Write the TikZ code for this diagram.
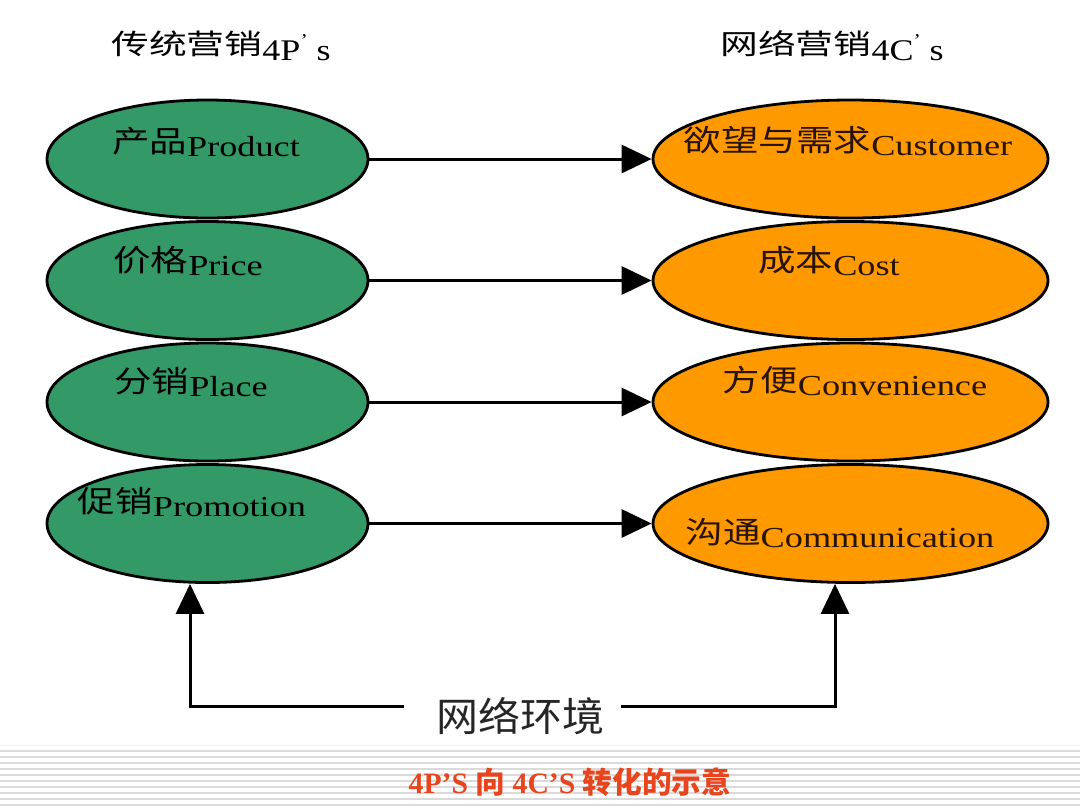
\documentclass[tikz,border=0pt]{standalone}
\usepackage{fontspec}
\usepackage{graphicx}
\setmainfont{Liberation Serif}
\newfontfamily\cjk{Noto Sans CJK SC}
\usetikzlibrary{arrows.meta,shapes.geometric}
\definecolor{ellgreen}{RGB}{51,153,102}
\definecolor{ellorange}{RGB}{255,153,0}
\definecolor{capred}{RGB}{232,69,30}
\definecolor{stripe}{RGB}{218,218,218}
\newcommand{\lab}[2]{\scalebox{1.25}[1]{\fontsize{15pt}{17pt}\selectfont\cjk #1}\raisebox{-2pt}{\scalebox{1.25}[1]{\fontsize{14.5pt}{16pt}\selectfont #2}}}
\newcommand{\hdr}[2]{\scalebox{1.35}[1]{\fontsize{14pt}{16pt}\selectfont\cjk #1}\raisebox{-3pt}{\scalebox{1.2}[1]{\fontsize{15pt}{17pt}\selectfont 4#2\raisebox{7pt}{\fontsize{9pt}{10pt}\selectfont ’}\ s}}}
\tikzset{
  greenell/.style={ellipse, draw=black, line width=1.4pt, fill=ellgreen, minimum width=160.5pt, minimum height=59pt, inner sep=0pt},
  orangeell/.style={ellipse, draw=black, line width=1.4pt, fill=ellorange, minimum width=197.5pt, minimum height=59pt, inner sep=0pt},
  lbl/.style={inner sep=0pt, text=black},
  rlbl/.style={inner sep=0pt, text={rgb,255:red,40;green,18;blue,0}},
  conn/.style={line width=1.5pt, -{Triangle[length=15pt,width=14pt]}},
  stripeline/.style={draw=stripe, line width=0.8pt}
}
\begin{document}
\begin{tikzpicture}[x=0.5pt,y=-0.5pt]
\useasboundingbox (0,0) rectangle (1080,810);
% bottom stripes
\draw[draw=stripe!35, line width=0.6pt] (0,745.5) -- (1080,745.5);
\foreach \k in {0,...,9} {
  \draw[stripeline] (0,{750.7+6*\k}) -- (1080,{750.7+6*\k});
}
% headers
\node[lbl] (h1) at (221,46) {\hdr{传统营销}{P}};
\node[lbl] (h2) at (832,46) {\hdr{网络营销}{C}};
% ellipses
\node[greenell] (p1) at (207.5,159) {};
\node[greenell] (p2) at (207.5,280.5) {};
\node[greenell] (p3) at (207.5,402) {};
\node[greenell] (p4) at (207.5,523.5) {};
\node[orangeell] (c1) at (850.5,159) {};
\node[orangeell] (c2) at (850.5,280.5) {};
\node[orangeell] (c3) at (850.5,402) {};
\node[orangeell] (c4) at (850.5,523.5) {};
% labels
\node[lbl] (p1t) at (206,142) {\lab{产品}{Product}};
\node[lbl] (p2t) at (188,261) {\lab{价格}{Price}};
\node[lbl] (p3t) at (191,382) {\lab{分销}{Place}};
\node[lbl] (p4t) at (192,502) {\lab{促销}{Promotion}};
\node[rlbl] (c1t) at (848,141) {\lab{欲望与需求}{Customer}};
\node[rlbl] (c2t) at (829,261) {\lab{成本}{Cost}};
\node[rlbl] (c3t) at (855,381) {\lab{方便}{Convenience}};
\node[rlbl] (c4t) at (840,533) {\lab{沟通}{Communication}};
% horizontal arrows
\draw[conn] (p1) -- (c1);
\draw[conn] (p2) -- (c2);
\draw[conn] (p3) -- (c3);
\draw[conn] (p4) -- (c4);
% environment
\node[inner sep=0pt, text=black!85] (env) at (520,716) {\scalebox{1.05}[1]{\fontsize{20pt}{22pt}\selectfont\cjk 网络环境}};
\coordinate (cl) at (190,706);
\coordinate (cr) at (835,706);
\draw[conn] ([xshift=-16pt]env.west |- cl) -- (cl) -- (p4.south -| cl);
\draw[conn] ([xshift=8.5pt]env.east |- cr) -- (cr) -- (c4.south -| cr);
% caption
\node[inner sep=0pt, text=capred] (cap) at (570,782) {\scalebox{1.1}[1.1]{\fontsize{13.5pt}{15pt}\selectfont\bfseries 4P’S {\cjk 向} 4C’S {\cjk 转化的示意}}};
\end{tikzpicture}
\end{document}
